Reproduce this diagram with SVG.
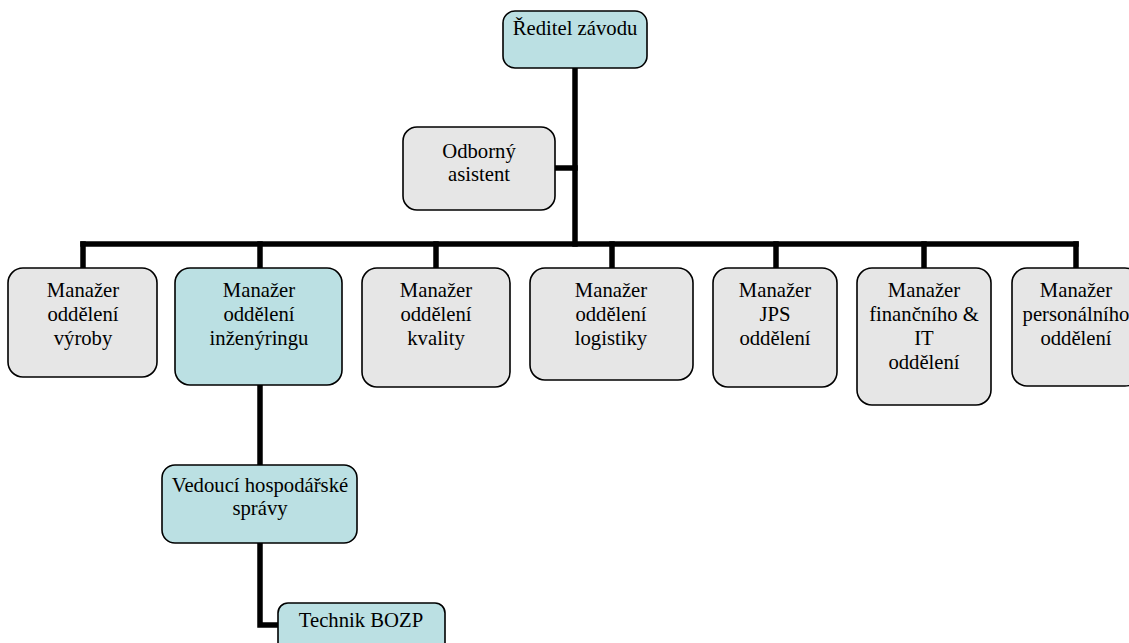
<svg xmlns="http://www.w3.org/2000/svg" width="1129" height="643" viewBox="0 0 1129 643">
<style>
.box{stroke:#000;stroke-width:1.6}
.blue{fill:#bbe0e3}
.gray{fill:#e6e6e6}
.t{font-family:'Liberation Serif','Tinos','Times New Roman','DejaVu Serif',serif;font-size:20.7px;fill:#000;text-anchor:middle}
.c{stroke:#000;stroke-width:5.5;fill:none;stroke-linecap:square}
</style>
<rect width="1129" height="643" fill="#fff"/>
<g id="connectors">
<line class="c" x1="575" y1="68" x2="575" y2="244"/>
<line class="c" x1="555" y1="168" x2="575" y2="168"/>
<line class="c" x1="83" y1="244" x2="1076" y2="244"/>
<line class="c" x1="83" y1="244" x2="83" y2="268"/>
<line class="c" x1="260" y1="244" x2="260" y2="268"/>
<line class="c" x1="436" y1="244" x2="436" y2="268"/>
<line class="c" x1="612" y1="244" x2="612" y2="268"/>
<line class="c" x1="776" y1="244" x2="776" y2="268"/>
<line class="c" x1="924" y1="244" x2="924" y2="268"/>
<line class="c" x1="1076" y1="244" x2="1076" y2="268"/>
<line class="c" x1="260" y1="385" x2="260" y2="465"/>
<polyline class="c" points="260,543 260,625 278,625"/>
</g>
<g id="reditel">
<rect class="box blue" x="503" y="11" width="144" height="57" rx="12"/>
<text class="t" x="575" y="35">Ředitel závodu</text>
</g>
<g id="asistent">
<rect class="box gray" x="403" y="127" width="152" height="83" rx="14"/>
<text class="t" x="479" y="158">Odborný</text>
<text class="t" x="479" y="181">asistent</text>
</g>
<g id="vyroba">
<rect class="box gray" x="8" y="268" width="149" height="109" rx="15"/>
<text class="t" x="83" y="297">Manažer</text>
<text class="t" x="83" y="321">oddělení</text>
<text class="t" x="83" y="345">výroby</text>
</g>
<g id="inzenyring">
<rect class="box blue" x="175" y="268" width="167" height="117" rx="15"/>
<text class="t" x="259" y="297">Manažer</text>
<text class="t" x="259" y="321">oddělení</text>
<text class="t" x="259" y="345">inženýringu</text>
</g>
<g id="kvalita">
<rect class="box gray" x="362" y="268" width="148" height="119" rx="15"/>
<text class="t" x="436" y="297">Manažer</text>
<text class="t" x="436" y="321">oddělení</text>
<text class="t" x="436" y="345">kvality</text>
</g>
<g id="logistika">
<rect class="box gray" x="530" y="268" width="163" height="112" rx="15"/>
<text class="t" x="611" y="297">Manažer</text>
<text class="t" x="611" y="321">oddělení</text>
<text class="t" x="611" y="345">logistiky</text>
</g>
<g id="jps">
<rect class="box gray" x="713" y="268" width="124" height="119" rx="15"/>
<text class="t" x="775" y="297">Manažer</text>
<text class="t" x="775" y="321">JPS</text>
<text class="t" x="775" y="345">oddělení</text>
</g>
<g id="financni">
<rect class="box gray" x="857" y="268" width="134" height="137" rx="15"/>
<text class="t" x="924" y="297">Manažer</text>
<text class="t" x="924" y="321">finančního &amp;</text>
<text class="t" x="924" y="345">IT</text>
<text class="t" x="924" y="369">oddělení</text>
</g>
<g id="personalni">
<rect class="box gray" x="1012" y="268" width="128" height="118" rx="15"/>
<text class="t" x="1076" y="297">Manažer</text>
<text class="t" x="1076" y="321">personálního</text>
<text class="t" x="1076" y="345">oddělení</text>
</g>
<g id="vedouci">
<rect class="box blue" x="162" y="465" width="195" height="78" rx="13"/>
<text class="t" x="260" y="492">Vedoucí hospodářské</text>
<text class="t" x="260" y="515">správy</text>
</g>
<g id="technik">
<rect class="box blue" x="278" y="603" width="167" height="60" rx="10"/>
<text class="t" x="361" y="627">Technik BOZP</text>
</g>
</svg>
